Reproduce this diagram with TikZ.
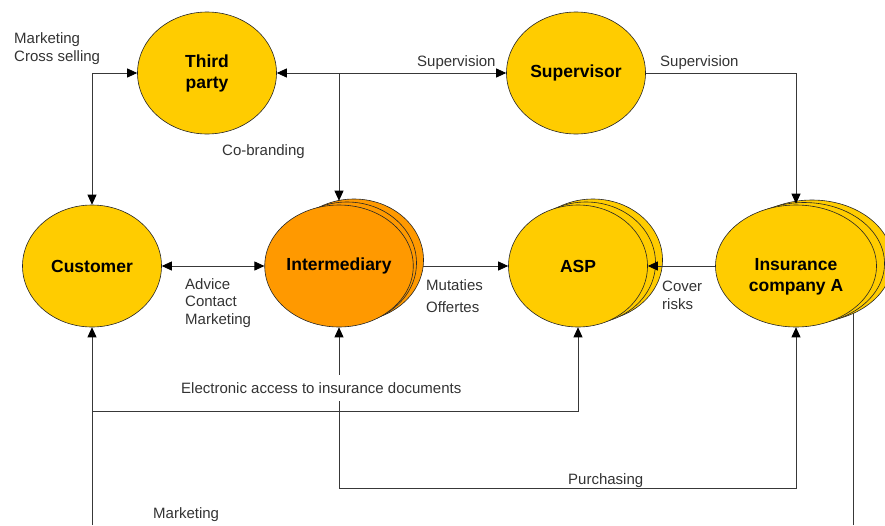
\documentclass[tikz,border=0pt]{standalone}
\usepackage{fontspec}
\setmainfont{Liberation Sans}
\usetikzlibrary{arrows.meta,shapes.geometric,backgrounds}
\definecolor{gold}{HTML}{FFCC00}
\definecolor{amber}{HTML}{FF9900}
\begin{document}
\begin{tikzpicture}[x=1pt,y=-1pt,
  oval/.style={ellipse,draw=black!85,line width=0.6pt,fill=gold,inner sep=0pt,
    minimum width=139pt,minimum height=122pt,
    font=\fontsize{17.5}{21}\selectfont\bfseries,align=center},
  boldtext/.style={font=\fontsize{17.5}{21}\selectfont\bfseries,align=center,inner sep=0pt},
  conn/.style={draw=black!78,line width=0.8pt},
  tip/.style={-{Triangle[length=10pt,width=9pt,color=black]}},
  both/.style={{Triangle[length=10pt,width=9pt,color=black]}-{Triangle[length=10pt,width=9pt,color=black]}},
  lbl/.style={font=\fontsize{15}{18}\selectfont,text=black!80,inner sep=0pt,anchor=west,align=left},
]
\useasboundingbox (0,0) rectangle (885,525);

% actors
\node[oval] (tp) at (207,73) {Third\\party};
\node[oval] (sup) at (576,73) {Supervisor};
\node[oval] (cust) at (92,266) {Customer};

% stacked intermediaries
\node[oval,fill=amber] (intB2) at (354,260) {};
\node[oval,fill=amber] (intB1) at (347,263) {};
\node[oval,fill=amber] (int) at (339,266) {Intermediary};

% stacked ASPs
\node[oval] (aspB2) at (593,260) {};
\node[oval] (aspB1) at (586,263) {};
\node[oval] (asp) at (578,266) {ASP};

% stacked insurance companies
\node[oval,minimum width=161pt] (insB2) at (812,261) {};
\node[oval,minimum width=161pt] (insB1) at (804,263.5) {};
\node[oval,minimum width=161pt] (ins) at (796,266) {};
\node[boldtext] (insT) at (796,277) {Insurance\\company A};

% lines running behind the stacks
\begin{scope}[on background layer]
  \draw[conn,tip] (int.center) -- (asp.west);
  \coordinate (bR) at (853,525);
  \draw[conn] (bR) -- (bR |- ins.center);
\end{scope}

% connectors
\draw[conn,both] (tp.west) -| (cust.north);
\draw[conn,both] (tp.east) -- (sup.west);
\coordinate (cob) at (int.north |- tp.east);
\draw[conn,tip] (cob) -- ([yshift=4pt]int.north);
\draw[conn,tip] (sup.east) -| ([yshift=1pt]ins.north);
\draw[conn,both] (cust.east) -- (int.west);
\draw[conn,tip] (ins.west) -- (asp.east);

\coordinate (bL) at (92,525);
\draw[conn,tip] (bL) -- (cust.south);
\coordinate (ea) at (92,411);
\draw[conn,tip] (ea) -| (asp.south);
\coordinate (pu) at (339,488);
\draw[conn,tip] (pu) -- (int.south);
\draw[conn,tip] (pu) -| (ins.south);

% labels
\node[lbl] (l1) at (14,49) {Marketing\\Cross selling};
\node[lbl] (l2) at (417,63) {Supervision};
\node[lbl] (l3) at (660,63) {Supervision};
\node[lbl] (l4) at (222,152) {Co-branding};
\node[lbl,font=\fontsize{15}{17.5}\selectfont] (l5) at (185,303) {Advice\\Contact\\Marketing};
\node[lbl,font=\fontsize{15}{22}\selectfont] (l6) at (426,296) {Mutaties\\Offertes};
\node[lbl] (l7) at (662,295) {Cover\\risks};
\node[lbl,fill=white,inner ysep=7pt] (l8) at (181,388) {Electronic access to insurance documents};
\node[lbl] (l9) at (568,481) {Purchasing};
\node[lbl] (l10) at (153,515) {Marketing};
\end{tikzpicture}
\end{document}
